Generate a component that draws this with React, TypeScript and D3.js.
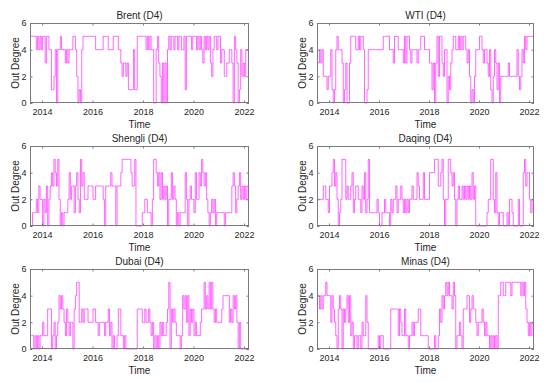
import React, { useEffect, useRef } from 'react';
import * as d3 from 'd3';

// one reading every 0.05 year, starting mid 2013
const startYear = 2013.52
const stepYears = 0.05

const brent = [
  5,5,5,5,5,4,5,4,5,4, 5,5,3,5,5,4,4,1,1,2, 4,0,4,4,5,4,4,4,3,4, 3,4,4,4,5,5,4,2,0,1,
  0,4,5,5,5,5,5,5,5,5, 5,5,4,4,4,4,4,4,5,5, 5,5,4,4,4,4,5,5,5,5, 4,4,3,2,3,3,2,3,1,1,
  1,1,4,1,1,5,5,5,5,5, 5,5,4,5,4,5,4,4,0,0, 4,5,3,2,0,3,0,3,0,4, 5,4,5,5,4,5,5,4,5,5,
  4,4,5,1,5,5,5,5,4,5, 5,5,4,5,4,5,4,3,5,4, 5,4,5,3,2,4,5,5,4,5, 5,3,4,4,2,2,3,3,4,4,
  3,0,5,4,3,0,1,4,2,3, 2,4,4
]

const wti = [
  3,3,4,3,4,2,2,2,1,2, 2,4,1,0,1,4,5,4,4,4, 3,0,1,3,0,0,3,5,5,5, 5,4,4,5,4,5,5,4,0,0,
  1,4,4,4,4,4,4,4,4,4, 4,4,4,5,5,5,5,5,4,4, 4,3,5,5,5,4,4,4,4,3, 5,3,5,5,4,3,4,4,4,4,
  3,4,4,5,5,5,4,4,4,4, 3,3,1,3,0,3,5,2,5,5, 3,2,4,4,0,2,1,3,4,5, 5,4,4,5,4,5,4,5,5,4,
  3,4,2,0,1,0,2,4,4,4, 5,5,4,3,4,4,3,2,4,1, 0,2,4,3,1,3,0,2,2,2, 2,2,2,3,2,2,2,2,2,2,
  4,2,1,2,4,3,5,4,5,5, 5,5,5
]

const shengli = [
  0,0,1,1,1,2,1,3,2,2, 0,2,1,3,0,2,3,4,3,5, 4,3,5,2,0,1,0,1,1,1, 2,4,2,3,3,1,3,4,2,1,
  5,3,4,2,2,2,3,3,3,3, 2,2,3,3,3,3,3,3,2,0, 3,3,3,3,4,3,3,3,0,3, 3,3,4,5,5,5,5,5,5,5,
  4,3,3,5,0,0,0,0,0,1, 1,2,2,1,1,1,0,2,5,5, 4,3,4,2,4,2,3,2,3,0, 2,2,4,2,3,2,0,1,0,1,
  1,1,1,4,2,0,2,3,2,2, 1,4,2,2,4,3,5,4,3,4, 2,1,0,1,2,1,2,0,1,1, 1,1,1,1,0,1,1,1,1,1,
  3,4,3,1,2,3,4,2,3,2, 3,2,3
]

const daqing = [
  2,2,2,2,2,3,3,2,2,1, 3,3,4,5,3,4,2,0,1,2, 5,5,5,2,3,2,2,3,4,1, 2,3,3,2,2,1,3,2,4,1,
  2,5,1,1,1,1,1,1,2,1, 0,0,1,1,2,1,1,1,0,2, 1,2,2,3,1,2,2,3,2,1, 2,1,2,1,2,2,3,2,2,2,
  4,3,2,2,2,4,2,2,2,2, 4,4,4,4,5,5,5,3,3,4, 5,2,0,2,2,5,5,4,3,4, 2,0,2,3,2,2,3,2,3,2,
  3,2,3,2,4,2,3,0,0,0, 0,0,0,0,0,0,1,2,2,5, 5,2,1,4,1,0,1,1,1,0, 0,0,1,0,2,2,1,0,0,0,
  0,2,0,0,0,4,5,3,4,4, 2,1,2
]

const dubai = [
  1,1,1,0,1,0,1,0,1,1, 2,1,1,1,3,3,3,0,1,2, 0,1,2,4,3,4,3,2,1,3, 2,1,2,2,0,3,4,5,5,2,
  2,3,2,3,3,3,2,2,2,2, 3,3,2,2,1,2,2,2,2,1, 2,2,3,1,2,0,1,0,0,1, 3,3,1,1,0,1,0,0,0,0,
  0,0,0,0,0,3,3,3,3,2, 2,3,2,2,3,2,1,2,0,1, 0,1,0,2,1,2,1,1,2,3, 5,0,3,2,3,2,1,1,1,0,
  1,4,3,4,2,4,1,3,2,3, 1,2,1,1,1,2,3,3,5,3, 4,3,5,3,5,3,2,3,2,2, 2,2,3,4,4,4,4,4,2,3,
  2,4,3,4,2,0,2,0,0,0, 0,0,0
]

const minas = [
  4,4,3,4,3,4,4,5,4,4, 4,2,4,3,2,1,0,3,4,3, 0,3,2,3,4,2,4,1,2,0, 1,1,0,1,1,0,2,1,1,4,
  2,0,0,0,0,0,0,0,0,1, 0,1,1,0,0,0,0,0,0,3, 3,3,3,3,3,1,3,2,1,1, 3,1,1,0,1,1,2,1,2,2,
  2,3,3,1,1,1,1,1,1,0, 0,0,0,0,1,0,0,1,3,2, 4,3,4,5,4,5,4,4,3,5, 4,0,1,1,2,1,0,3,3,3,
  4,4,2,3,4,3,3,2,1,2, 2,2,3,2,1,2,1,1,0,1, 0,1,0,1,0,4,4,5,5,4, 4,5,5,5,5,4,5,5,5,5,
  5,5,5,4,5,4,5,3,2,1, 2,1,2
]

const panels = [
  { title: 'Brent (D4)', values: brent },
  { title: 'WTI (D4)', values: wti },
  { title: 'Shengli (D4)', values: shengli },
  { title: 'Daqing (D4)', values: daqing },
  { title: 'Dubai (D4)', values: dubai },
  { title: 'Minas (D4)', values: minas },
]

const yearTicks = [2014, 2016, 2018, 2020, 2022]
const degreeTicks = [0, 2, 4, 6]

const width = 550
const height = 382
const colLeft = [30, 317]
const colWidth = [219, 217]
const rowTop = [23, 146, 269]
const plotH = 80
const font = 'Arial, "Liberation Sans", Helvetica, sans-serif'
const ink = '#262626'

export default function App() {
  const ref = useRef<SVGSVGElement>(null)

  useEffect(() => {
    const svg = d3.select(ref.current)
    svg.selectAll('*').remove()
    svg.append('rect').attr('width', width).attr('height', height).attr('fill', '#fff')

    panels.forEach((p, k) => {
      const col = k % 2
      const row = Math.floor(k / 2)
      const w = colWidth[col]
      const g = svg.append('g')
        .attr('transform', `translate(${colLeft[col]},${rowTop[row]})`)

      const x = d3.scaleLinear().domain([2013.52, 2022.2]).range([0, w])
      const y = d3.scaleLinear().domain([0, 6]).range([plotH, 0])

      const pts: [number, number][] = p.values.map((v, i) => [startYear + i * stepYears, v])
      pts.push([startYear + p.values.length * stepYears, p.values[p.values.length - 1]])

      const line = d3.line<[number, number]>()
        .x(d => x(Math.min(d[0], 2022.2)))
        .y(d => y(d[1]))
        .curve(d3.curveStepAfter)

      g.append('path')
        .attr('d', line(pts))
        .attr('fill', 'none')
        .attr('stroke', '#ff00ff')
        .attr('stroke-width', 0.6)

      // axes, ticks pointing inward like matlab
      const bottom = g.append('g')
        .attr('transform', `translate(0,${plotH})`)
        .call(d3.axisBottom(x).tickValues(yearTicks).tickFormat(d3.format('d')).tickSize(-2.5).tickPadding(5.5))
      const top = g.append('g')
        .call(d3.axisTop(x).tickValues(yearTicks).tickFormat(() => '').tickSize(-2.5))
      const left = g.append('g')
        .call(d3.axisLeft(y).tickValues(degreeTicks).tickFormat(d3.format('d')).tickSize(-2.5).tickPadding(3.5))
      const right = g.append('g')
        .attr('transform', `translate(${w},0)`)
        .call(d3.axisRight(y).tickValues(degreeTicks).tickFormat(() => '').tickSize(-2.5))

      ;[bottom, top, left, right].forEach(a => {
        a.select('.domain').remove()
        a.selectAll('line').attr('stroke', ink).attr('stroke-width', 0.6)
        a.selectAll('text').attr('fill', ink).style('font-family', font).style('font-size', '9px')
      })

      g.append('rect')
        .attr('x', 0.5).attr('y', 0.5)
        .attr('width', w - 1).attr('height', plotH - 1)
        .attr('fill', 'none')
        .attr('stroke', '#7a7a7a')
        .attr('stroke-width', 1)

      g.append('text')
        .attr('x', w / 2).attr('y', -4)
        .attr('text-anchor', 'middle')
        .attr('fill', ink)
        .style('font-family', font).style('font-size', '10px')
        .text(p.title)

      g.append('text')
        .attr('x', w / 2).attr('y', plotH + 25)
        .attr('text-anchor', 'middle')
        .attr('fill', ink)
        .style('font-family', font).style('font-size', '10px')
        .text('Time')

      g.append('text')
        .attr('transform', `translate(${-11.5},${plotH / 2}) rotate(-90)`)
        .attr('text-anchor', 'middle')
        .attr('fill', ink)
        .style('font-family', font).style('font-size', '10px')
        .text('Out Degree')
    })
  }, [])

  return (
    <svg ref={ref} width={width} height={height}
      style={{ position: 'absolute', left: 0, top: 0, display: 'block' }} />
  )
}
